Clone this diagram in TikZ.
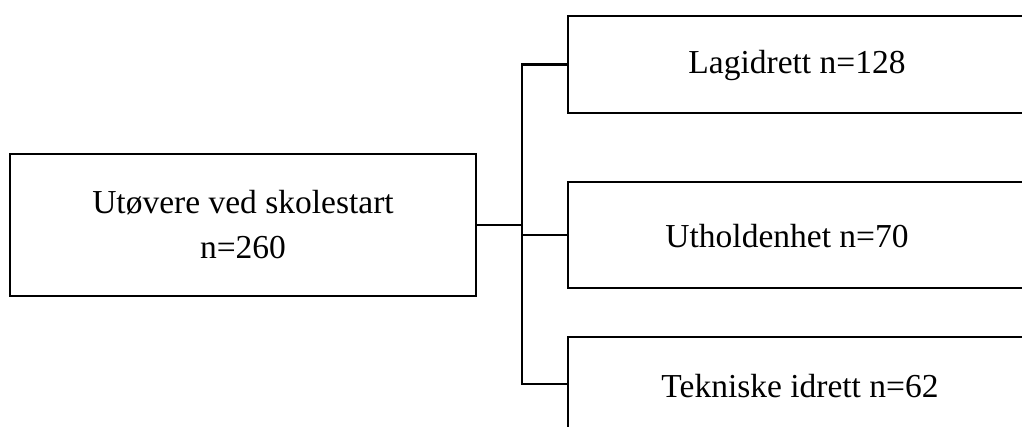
\documentclass[tikz,border=0pt]{standalone}
\usepackage{fontspec}
\setmainfont{Liberation Serif}
\begin{document}
\begin{tikzpicture}[x=1pt,y=-1pt,
  box/.style={draw=black,line width=2.4pt,fill=white,inner sep=0pt,align=center,
    font=\fontsize{33.5}{45}\selectfont},
  conn/.style={draw=black,line width=2.4pt}]
\useasboundingbox (0,0) rectangle (1022,427);
\clip (0,0) rectangle (1022,427);
\node[box,minimum width=466pt,minimum height=142pt] (L) at (243,225)
  {Utøvere ved skolestart\\n=260};
\node[box,minimum width=462pt,minimum height=97pt] (B1) at (799,64.5) {};
\node[box,minimum width=462pt,minimum height=106pt] (B2) at (799,235) {};
\node[box,minimum width=462pt,minimum height=94pt] (B3) at (799,384) {};
\node[font=\fontsize{33.5}{45}\selectfont] (T1) at (797,65) {Lagidrett n=128};
\node[font=\fontsize{33.5}{45}\selectfont] (T2) at (787,236) {Utholdenhet n=70};
\node[font=\fontsize{33.5}{45}\selectfont] (T3) at (800,386) {Tekniske idrett n=62};
\coordinate (j) at (522,225);
\draw[conn] (L.east) -- (j);
\draw[conn] (B1.west) -| (j);
\draw[conn] (B3.west) -| (j);
\draw[conn] (B2.west) -- (B2.west -| j);
\end{tikzpicture}
\end{document}
